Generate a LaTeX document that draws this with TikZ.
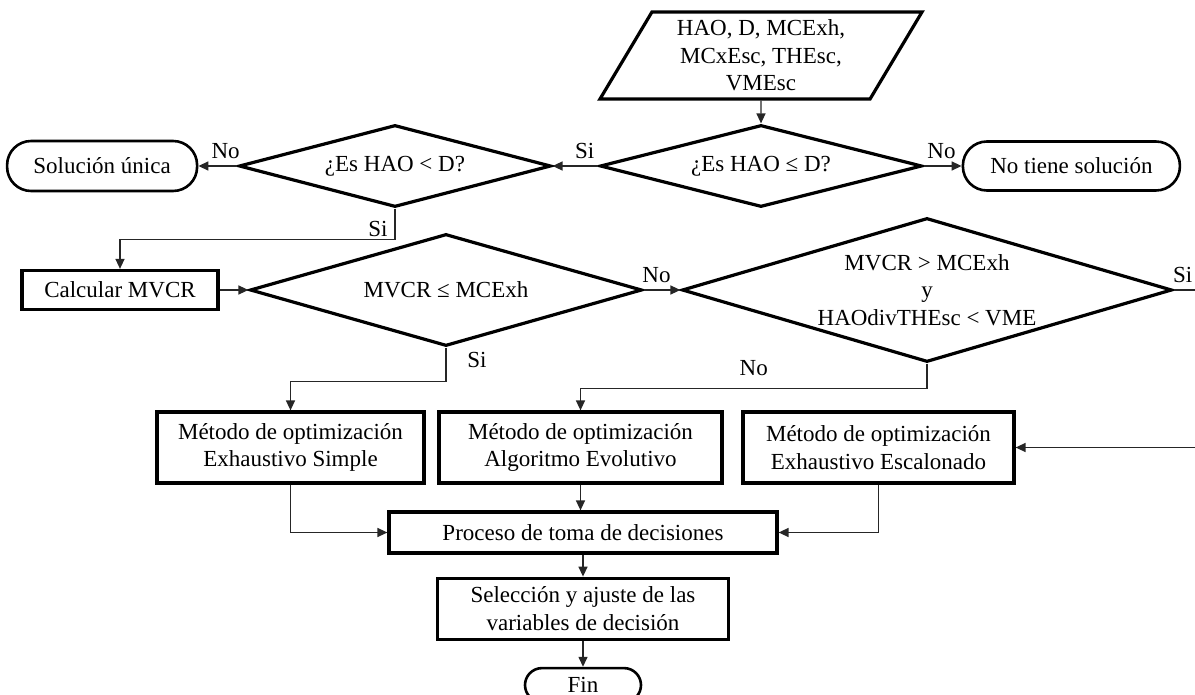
\documentclass[tikz,border=0pt]{standalone}
\usepackage{fontspec}
\setmainfont{Liberation Serif}
\usetikzlibrary{shapes.geometric,arrows.meta,positioning}

\begin{document}
\begin{tikzpicture}[
    x=0.5pt, y=-0.5pt,
    node distance=10pt and 20pt,
    every node/.style={font=\fontsize{11.5}{13.8}\selectfont},
    box/.style={rectangle, draw, line width=1.6pt, align=center, inner sep=2pt},
    decision/.style={diamond, draw, line width=1.6pt, align=center, inner sep=0pt},
    terminal/.style={rectangle, draw, line width=1.3pt, rounded corners=12pt, align=center},
    inout/.style={trapezium, trapezium left angle=54, trapezium right angle=126, trapezium stretches body, draw, line width=1.6pt, align=center},
    line/.style={-{Triangle[length=5pt,width=4.5pt]}, line width=0.7pt, draw=black!85}
]
    \useasboundingbox (0,0) rectangle (1195,695);

    \node[inout, minimum width=161pt, minimum height=43.5pt, inner sep=0pt] (inp) at (761,55.5) {HAO, D, MCExh,\\MCxEsc, THEsc,\\VMEsc};
    \node[decision, aspect=3.9, minimum width=161pt, minimum height=41pt] (d1) at (761,166) {¿Es HAO ≤ D?};
    \node[terminal, minimum width=108.5pt, minimum height=24.5pt, right=19pt of d1] (nosol) {No tiene solución};
    \node[decision, aspect=3.8, minimum width=156pt, minimum height=41pt] (d2) at (395,166) {¿Es HAO < D?};
    \node[terminal, minimum width=95pt, minimum height=25pt, left=19.5pt of d2] (unica) {Solución única};

    \node[box, minimum width=98pt, minimum height=19.5pt] (calc) at (120,290) {Calcular MVCR};
    \node[decision, aspect=3.5, minimum width=196pt, minimum height=56pt] (d3) at (446,290) {MVCR ≤ MCExh};
    \node[decision, aspect=3.4, inner sep=-9pt, minimum width=245pt, minimum height=72pt] (d4) at (927,290) {MVCR > MCExh\\y\\HAOdivTHEsc < VME};

    \node[box, minimum width=133.5pt, minimum height=35.5pt] (m1) at (290.5,447.5) {Método de optimización\\Exhaustivo Simple};
    \node[box, minimum width=141.5pt, minimum height=35.5pt] (m2) at (580.5,447.5) {Método de optimización\\Algoritmo Evolutivo};
    \node[box, minimum width=135.5pt, minimum height=35.5pt] (m3) at (878.5,447.5) {Método de optimización\\Exhaustivo Escalonado};
    \node[box, minimum width=194pt, minimum height=20.5pt] (proc) at (583,532.5) {Proceso de toma de decisiones};
    \node[box, minimum width=145.5pt, minimum height=30.5pt, below=11pt of proc] (sel) {Selección y ajuste de las\\variables de decisión};
    \node[terminal, rounded corners=8.5pt, minimum width=58pt, minimum height=17pt, below=13pt of sel] (fin) {Fin};

    \draw[line] (inp) -- (d1);
    \draw[line] (d1) -- node[above, pos=0.3] {Si} (d2);
    \draw[line] (d1) -- node[above, pos=0.47] {No} (nosol);
    \draw[line] (d2) -- node[above, pos=0.3] {No} (unica);
    \draw[line] (d2.south) -- node[left, pos=0.65] {Si} ++(0,31) -| (calc.north);
    \draw[line] (calc) -- (d3);
    \draw[line] (d3) -- node[above, pos=0.35] {No} (d4);
    \draw[line] (d3.south) -- node[right=7pt, pos=0.35] {Si} ++(0,34) -| (m1.north);
    \draw[line] (d4.south) -- ++(0,25) -| node[above=3pt, pos=0.25] {No} (m2.north);
    \draw[line] (d4.east) -- node[above, pos=0.3] {Si} ++(30,0) |- (m3.east);
    \draw[line] (m1.south) |- (proc.west);
    \draw[line] (m2.south) -- (m2.south |- proc.north);
    \draw[line] (m3.south) |- (proc.east);
    \draw[line] (proc) -- (sel);
    \draw[line] (sel) -- (fin);
\end{tikzpicture}
\end{document}
